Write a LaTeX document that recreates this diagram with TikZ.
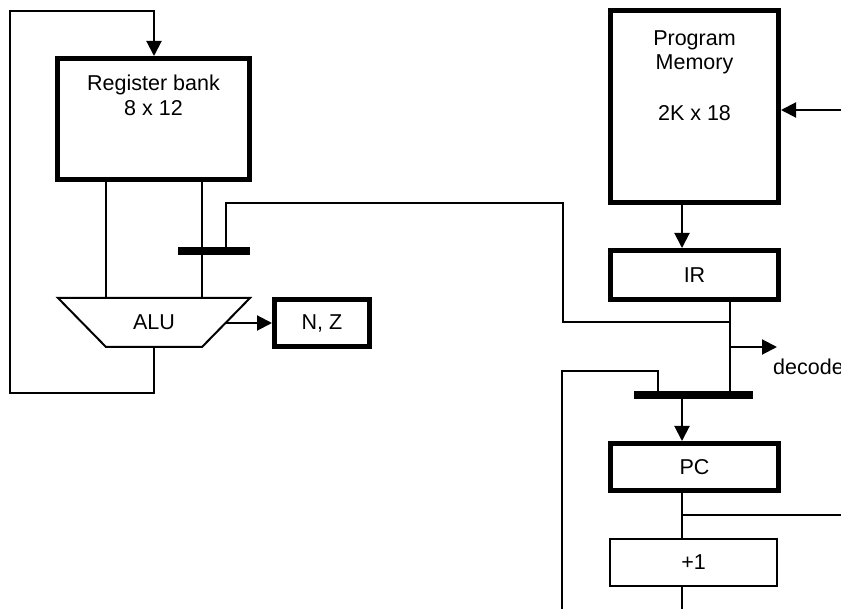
\documentclass[tikz,border=0pt]{standalone}
\usepackage{fontspec}
\setmainfont{Liberation Sans}
\usetikzlibrary{arrows.meta,positioning}

\begin{document}
\begin{tikzpicture}[
    x=1pt, y=-1pt,
    >={Triangle[length=15pt,width=15pt]},
    font=\fontsize{21.5}{24.5}\selectfont,
    every node/.style={inner sep=0pt},
    wire/.style={line width=2pt},
    box/.style={draw, line width=5pt},
    thinbox/.style={draw, line width=2pt},
    latch/.style={fill=black, minimum height=8pt}
]
\useasboundingbox (0,0) rectangle (841,609);

% Register bank
\node[box, minimum width=192pt, minimum height=121pt] (reg) at (153.5,119) {};
\node[align=center, below=19pt of reg.north] (regtxt) {Register bank\\8 x 12};

% ALU
\coordinate (aluTL) at (58,298);
\coordinate (aluTR) at (250,298);
\coordinate (aluBR) at (202,347);
\coordinate (aluBL) at (106,347);
\draw[wire] (aluTL) -- (aluTR) -- (aluBR) -- (aluBL) -- cycle;
\node (alu) at (154,322) {ALU};
\draw[wire] (reg.south -| aluBL) -- (aluBL |- aluTL);
\draw[wire] (reg.south -| aluBR) -- (aluBR |- aluTL);

% Flags
\node[box, minimum width=95pt, minimum height=47pt] (nz) at (322,323) {N, Z};
\coordinate (aluout) at (225.5,323);
\draw[wire,->] (aluout) -- (nz);

% Write back to register bank
\coordinate (fb1) at (154,393);
\coordinate (fb2) at (10,393);
\coordinate (fb3) at (10,11);
\coordinate (fb4) at (154,11);
\draw[wire,->] (fb1 |- aluBL) -- (fb1) -- (fb2) -- (fb3) -- (fb4) -- (fb4 |- reg.north);

% Immediate latch
\node[latch, minimum width=72pt] (limm) at (214,251) {};
\coordinate (ctl1) at (226,203);
\coordinate (ctl2) at (563,203);
\coordinate (ctl3) at (563,322);
\coordinate (tap) at (730,322);
\draw[wire] (limm.north -| ctl1) -- (ctl1) -- (ctl2) -- (ctl3) -- (tap);

% Program memory and IR
\node[box, minimum width=168pt, minimum height=192pt] (mem) at (694.5,106.5) {};
\node[align=center, below=22.5pt of mem.north] (memtxt) {Program\\Memory\\[26pt]2K x 18};
\coordinate (memin) at (841,110);
\draw[wire,->] (memin) -- (memin -| mem.east);

\node[box, minimum width=168pt, minimum height=49pt] (ir) at (694.5,275) {IR};
\coordinate (pcx) at (682,515);
\draw[wire,->] (mem.south -| pcx) -- (ir.north -| pcx);

% PC latch
\node[latch, minimum width=119pt] (lpc) at (693.5,395) {};
\draw[wire] (ir.south -| tap) -- (lpc.north -| tap);

\coordinate (dec) at (730,347);
\coordinate (decend) at (777,347);
\draw[wire,->] (dec) -- (decend);
\node[anchor=base west] (dectxt) at (773,375) {decode};

\coordinate (loop1) at (562,609);
\coordinate (loop2) at (562,371);
\coordinate (loop3) at (658,371);
\draw[wire] (loop1) -- (loop2) -- (loop3) -- (lpc.north -| loop3);

% PC and incrementer
\node[box, minimum width=168pt, minimum height=47pt] (pc) at (694.5,467) {PC};
\node[thinbox, minimum width=167pt, minimum height=47pt] (inc) at (693.5,562.5) {+1};
\draw[wire,->] (lpc.south -| pcx) -- (pc.north -| pcx);
\draw[wire] (pc.south -| pcx) -- (inc.north -| pcx);
\coordinate (pcout) at (841,515);
\draw[wire] (pcx) -- (pcout);
\coordinate (incend) at (682,609);
\draw[wire] (inc.south -| pcx) -- (incend);

\end{tikzpicture}
\end{document}
